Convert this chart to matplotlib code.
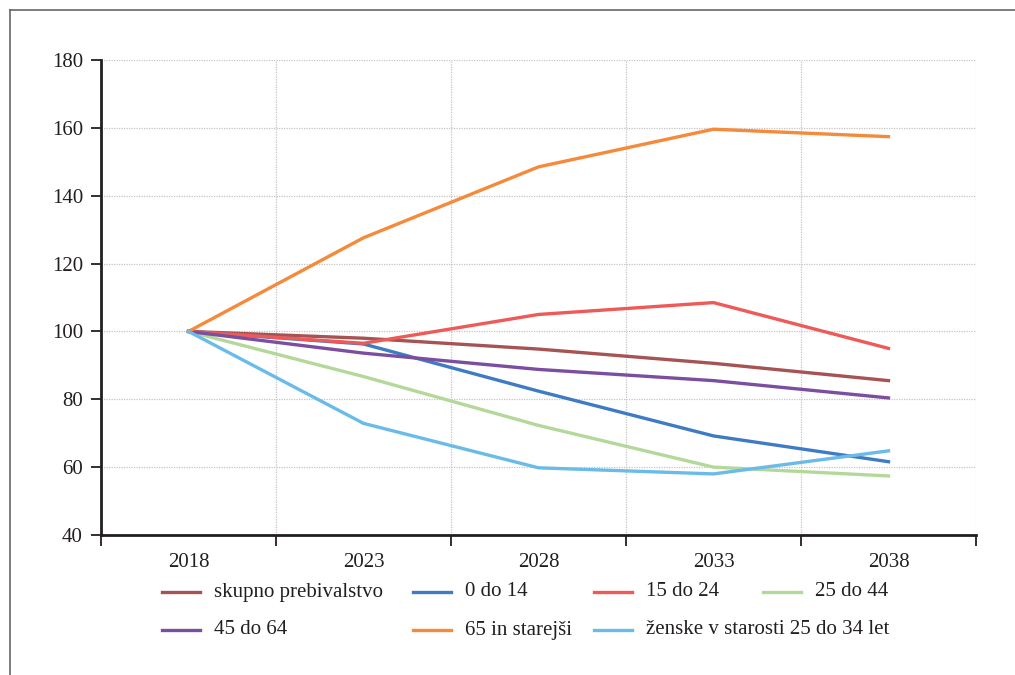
import numpy as np
import matplotlib
matplotlib.use("Agg")
import matplotlib.pyplot as plt
from matplotlib.lines import Line2D

# indeks, 2018 = 100
years = ["2018", "2023", "2028", "2033", "2038"]

skupno = [100, 98.0, 94.8, 90.6, 85.5]
age_0_14 = [100, 96.3, 82.4, 69.2, 61.6]
age_15_24 = [100, 96.5, 105.0, 108.5, 95.0]
age_25_44 = [100, 86.7, 72.3, 60.0, 57.4]
age_45_64 = [100, 93.6, 88.8, 85.5, 80.4]
age_65 = [100, 127.6, 148.5, 159.6, 157.4]
zenske_25_34 = [100, 72.9, 59.8, 58.0, 64.8]

labels = ["skupno prebivalstvo", "0 do 14", "15 do 24", "25 do 44",
          "45 do 64", "65 in starejši", "ženske v starosti 25 do 34 let"]
series = [skupno, age_0_14, age_15_24, age_25_44, age_45_64, age_65, zenske_25_34]
colors = ["#A65353", "#3E7BC4", "#EE5A57", "#B4D89A",
          "#7B4E9F", "#F48A3A", "#6ABBE8"]

# legend slots in figure pixels (x of line start, y)
legend_pos = [(162, 592), (413, 592), (594, 592), (763, 592),
              (162, 630), (413, 630), (594, 630)]

plt.rcParams["font.family"] = ["Liberation Serif", "DejaVu Serif"]

W, H = 1015, 675
fig = plt.figure(figsize=(W / 100, H / 100), dpi=100)
ax = fig.add_axes([101 / W, 1 - 535 / H, 875 / W, 475 / H])

x = np.arange(len(years))
for vals, col in zip(series, colors):
    ax.plot(x, vals, color=col, lw=2.4, zorder=3)

ax.set_xlim(-0.5, len(years) - 0.5)
ax.set_ylim(40, 180)
ax.set_yticks(np.arange(40, 181, 20))

ax.set_xticks(np.arange(len(years) + 1) - 0.5)
ax.set_xticklabels([])
ax.set_xticks(x, minor=True)
ax.set_xticklabels(years, minor=True)
ax.tick_params(axis="x", which="minor", length=0, pad=13, labelsize=15, colors="#231f20")
ax.tick_params(axis="x", which="major", length=8, width=1.3, color="#231f20")
ax.tick_params(axis="y", length=7, width=1.3, pad=6, labelsize=15, colors="#231f20")

ax.grid(True, which="major", color="#c4c4c4", lw=0.9, ls=(0, (1, 1)))
for s in ["top", "right"]:
    ax.spines[s].set_visible(False)
for s in ["left", "bottom"]:
    ax.spines[s].set_linewidth(2)
    ax.spines[s].set_color("#231f20")
    ax.spines[s].set_zorder(4)

# legenda
for lab, col, (px, py) in zip(labels, colors, legend_pos):
    fig.add_artist(Line2D([px / W, (px + 38) / W], [1 - py / H, 1 - py / H],
                          color=col, lw=2.4, transform=fig.transFigure))
    fig.text((px + 52) / W, 1 - py / H, lab, fontsize=15, color="#231f20",
             va="center", ha="left")

# okvir
fig.add_artist(Line2D([10 / W, 10 / W], [0, 1 - 10 / H], color="#666666", lw=1.2,
                      transform=fig.transFigure))
fig.add_artist(Line2D([10 / W, 1], [1 - 10 / H, 1 - 10 / H], color="#666666", lw=1.2,
                      transform=fig.transFigure))

fig.savefig("out.png", dpi=100)
